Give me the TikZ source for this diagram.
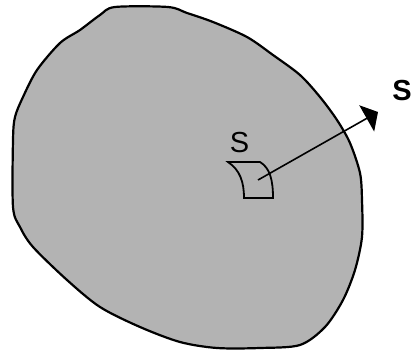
\documentclass[tikz,border=0pt]{standalone}
\usepackage{fontspec}
\setmainfont{Liberation Sans}
\usetikzlibrary{arrows.meta, positioning}
\definecolor{bodygray}{RGB}{179,179,179}
\tikzset{
  outline/.style={line width=2.2pt, line join=round, fill=bodygray},
  patch/.style={line width=1.8pt, line join=miter},
  vecarrow/.style={line width=1.6pt, -{Triangle[length=13pt,width=30pt]}},
  lbl/.style={font=\fontsize{29}{30}\selectfont, inner sep=0pt}
}
\begin{document}
\begin{tikzpicture}[x=1pt, y=-1pt]
\useasboundingbox (0,0) rectangle (413,351);
% Body
\draw[outline] plot[smooth cycle, tension=0.5] coordinates {
  (115,7) (168,7) (187,13) (213,22) (247,37) (273,55) (300,75) (320,97)
  (337,120) (350,143) (360,173) (362,200) (362,237) (355,270) (343,300)
  (325,327) (300,345) (260,348) (217,348) (180,342) (140,327) (100,307)
  (67,280) (33,247) (20,227) (13,207) (13,140) (15,117) (23,97) (37,70)
  (60,43) (80,30) (100,15)};

% Surface element
\draw[patch] (228,162) -- (260,162)
  .. controls (270,168) and (273,180) .. (273,198)
  -- (244,198)
  .. controls (244,182) and (240,170) .. cycle;
\node[lbl] (small) at (239.5,142.5) {S};

% Normal vector
\coordinate (base) at (258,180);
\coordinate (tip) at (378,112);
\draw[vecarrow] (base) -- (tip);
\node[lbl, anchor=east, font=\fontsize{29}{30}\selectfont\bfseries] (big) at (412,91) {S};
\end{tikzpicture}
\end{document}
